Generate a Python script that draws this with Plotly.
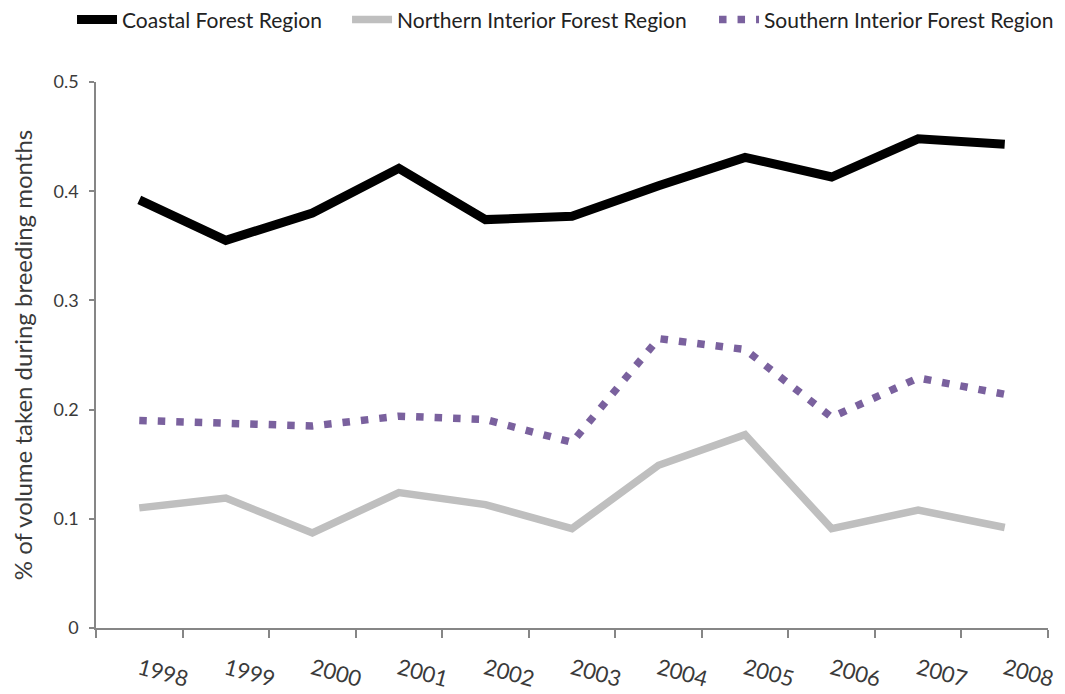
import plotly.graph_objects as go

years = ["1998", "1999", "2000", "2001", "2002", "2003", "2004", "2005", "2006", "2007", "2008"]
coastal = [0.392, 0.355, 0.380, 0.421, 0.374, 0.377, 0.405, 0.431, 0.413, 0.448, 0.443]
northern = [0.110, 0.119, 0.087, 0.124, 0.113, 0.091, 0.149, 0.177, 0.091, 0.108, 0.092]
southern = [0.190, 0.188, 0.185, 0.194, 0.191, 0.170, 0.265, 0.255, 0.193, 0.229, 0.214]
y_ticks = [0, 0.1, 0.2, 0.3, 0.4, 0.5]
y_tick_text = ["0", "0.1", "0.2", "0.3", "0.4", "0.5"]

FONT = "Lato"
TXT = "#3a3a3a"

fig = go.Figure()
fig.add_trace(go.Scatter(x=years, y=coastal, mode="lines", name="Coastal Forest Region",
                         line=dict(color="#000000", width=9), legend="legend"))
fig.add_trace(go.Scatter(x=years, y=northern, mode="lines", name="Northern Interior Forest Region",
                         line=dict(color="#BFBFBF", width=7.5), legend="legend2"))
fig.add_trace(go.Scatter(x=years, y=southern, mode="lines", name="Southern Interior Forest Region",
                         line=dict(color="#7A619E", width=7.5, dash="7.5px,11px"), legend="legend3"))

leg_common = dict(orientation="h", y=1.1136, yanchor="middle", xanchor="left",
                  font=dict(family=FONT, size=21, color="#222222"),
                  bgcolor="rgba(0,0,0,0)", itemwidth=40)

fig.update_layout(
    width=1057, height=686,
    margin=dict(l=88, r=17, t=74, b=66, autoexpand=False),
    paper_bgcolor="white", plot_bgcolor="white",
    font=dict(family=FONT, color=TXT, size=16),
    showlegend=True,
    legend=dict(x=-0.0252, **leg_common),
    legend2=dict(x=0.2637, **leg_common),
    legend3=dict(x=0.6492, **leg_common),
)
fig.update_xaxes(
    type="category", range=[-0.5, 10.5], tickson="boundaries",
    showline=True, linecolor="#868686", linewidth=1.5,
    ticks="outside", ticklen=8, tickcolor="#868686", tickwidth=1.5,
    showgrid=False, zeroline=False, tickangle=15, automargin=False,
    ticklabelstandoff=18,
    tickfont=dict(family=FONT, size=22, color=TXT),
)
fig.update_yaxes(
    range=[0, 0.5], tickvals=y_ticks, ticktext=y_tick_text,
    showline=True, linecolor="#868686", linewidth=1.5,
    ticks="outside", ticklen=5, tickcolor="#868686", tickwidth=1.5,
    showgrid=False, zeroline=False, automargin=False,
    ticklabelstandoff=7,
    tickfont=dict(family=FONT, size=18, color=TXT),
    title=dict(text="% of volume taken during breeding months",
               font=dict(family=FONT, size=24, color=TXT), standoff=15),
)

fig.write_html("out.html")
